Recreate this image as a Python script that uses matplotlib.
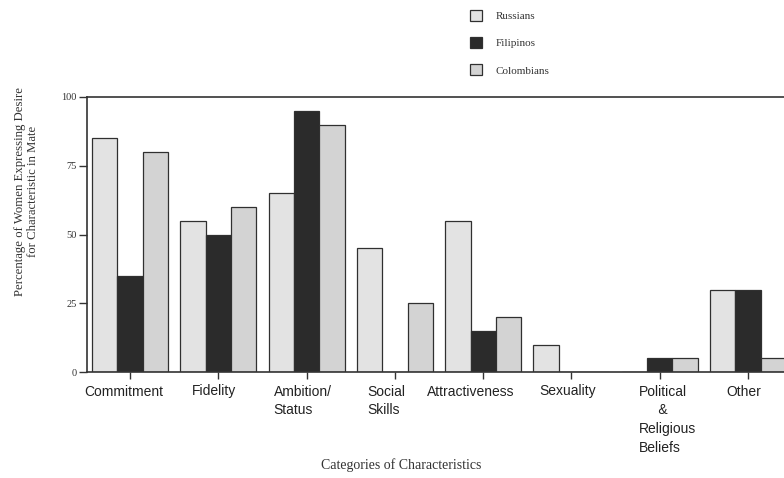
import numpy as np
import matplotlib
matplotlib.use("Agg")
import matplotlib.pyplot as plt
from matplotlib.transforms import ScaledTranslation

categories = ["Commitment", "Fidelity", "Ambition/\nStatus", "Social\nSkills",
              "Attractiveness", "Sexuality", "Political\n     &\nReligious\nBeliefs", "Other"]
russians = [85, 55, 65, 45, 55, 10, 0, 30]
filipinos = [35, 50, 95, 0, 15, 0, 5, 30]
colombians = [80, 60, 90, 25, 20, 0, 5, 5]
series_names = ["Russians", "Filipinos", "Colombians"]
yticks = [0, 25, 50, 75, 100]

SERIF = "Liberation Serif"
SANS = "Liberation Sans"

fig = plt.figure(figsize=(7.84, 4.78), dpi=100)
W, H = 784, 478
ax = fig.add_axes([87 / W, 1 - 372 / H, (800 - 87) / W, (372 - 97) / H])

x = np.arange(len(categories))
bw = 0.287
edge = "#303030"
faces = ["#e3e3e3", "#2b2b2b", "#d3d3d3"]
bars = []
for i, (vals, fc) in enumerate(zip([russians, filipinos, colombians], faces)):
    b = ax.bar(x + (i - 1) * bw, vals, bw, color=fc, edgecolor=edge, linewidth=0.9,
               label=series_names[i], zorder=2)
    bars.append(b)

ax.set_xlim(-0.487, 7.588)
ax.set_ylim(0, 100)
ax.set_yticks(yticks)
ax.set_yticklabels([str(v) for v in yticks], fontfamily=SERIF, fontsize=7.5, color="#333333")
ax.set_xticks(x)
ax.set_xticklabels(categories, fontfamily=SANS, fontsize=10, color="#222222",
                   linespacing=1.45, multialignment="left")
ax.tick_params(axis="y", length=6, width=1.0, pad=1.5, color="#333333")
ax.tick_params(axis="x", length=5, width=1.0, pad=4, color="#333333")

offsets = [-6, -4, -4, -9, -12, -4, 8, -4]
for lab, dx in zip(ax.get_xticklabels(), offsets):
    lab.set_transform(lab.get_transform() + ScaledTranslation(dx / 100, 0, fig.dpi_scale_trans))

for s in ["left", "bottom", "top"]:
    ax.spines[s].set_linewidth(1.2)
    ax.spines[s].set_color("#333333")
ax.spines["right"].set_visible(False)

fig.text(26.5 / W, 1 - 191 / H, "Percentage of Women Expressing Desire\nfor Characteristic in Mate",
         rotation=90, ha="center", va="center", multialignment="center",
         fontfamily=SERIF, fontsize=9.2, color="#333333", linespacing=1.05)
fig.text(401 / W, 1 - 465 / H, "Categories of Characteristics", ha="center", va="center",
         fontfamily=SERIF, fontsize=10, color="#333333")

handles = [b[0] for b in bars]
leg = fig.legend(handles, series_names, loc="upper left", bbox_to_anchor=(470 / W, 1 - 10 / H),
                 frameon=False, borderpad=0, borderaxespad=0, handlelength=1.1, handleheight=1.1,
                 handletextpad=1.2, labelspacing=1.45, prop={"family": SERIF, "size": 8})
for t in leg.get_texts():
    t.set_color("#333333")

fig.savefig("out.png", dpi=100, facecolor="white")
